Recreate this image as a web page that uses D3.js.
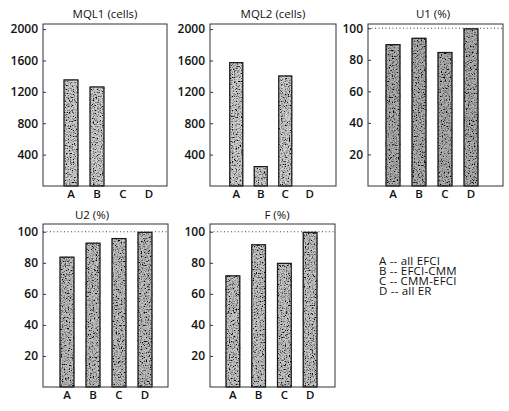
<!DOCTYPE html>
<html>
<head>
<meta charset="utf-8">
<script src="https://cdn.jsdelivr.net/npm/d3@7"></script>
<style>
  body { margin: 0; background: #fff; }
  text { font-family: "Open Sans", sans-serif; fill: #111; }
</style>
</head>
<body>
<script>
// data
const categories = ["A", "B", "C", "D"];
const titles = ["MQL1 (cells)", "MQL2 (cells)", "U1 (%)", "U2 (%)", "F (%)"];
const mql1 = [1360, 1270, null, null];
const mql2 = [1580, 255, 1410, null];
const u1 = [90, 94, 85, 100];
const u2 = [84, 93, 96, 100];
const f = [72, 92, 80, 100];
const cellTicks = [400, 800, 1200, 1600, 2000];
const pctTicks = [20, 40, 60, 80, 100];
const legendLines = ["A -- all EFCI", "B -- EFCI-CMM", "C -- CMM-EFCI", "D -- all ER"];

let width = 509,
  height = 411;

// panel boxes and look
const panels = [
  { values: mql1, ticks: cellTicks, top: 2065, x0: 43, x1: 167, y0: 24, y1: 186, b0: 58, b1: 162, tx: 105, ty: 18, tone: "#cfcfcf" },
  { values: mql2, ticks: cellTicks, top: 2065, x0: 210, x1: 336, y0: 24, y1: 186, b0: 224, b1: 322, tx: 273, ty: 18, tone: "#cfcfcf" },
  { values: u1, ticks: pctTicks, top: 102.7, x0: 368, x1: 503, y0: 24, y1: 186, b0: 380, b1: 484, tx: 433, ty: 18, tone: "#b0b0b0", dotted: true },
  { values: u2, ticks: pctTicks, top: 105, x0: 43, x1: 168, y0: 224, y1: 387, b0: 54, b1: 158, tx: 92, ty: 219, tone: "#c0c0c0", dotted: true },
  { values: f, ticks: pctTicks, top: 105, x0: 210, x1: 335, y0: 224, y1: 387, b0: 220, b1: 323, tx: 277, ty: 219, tone: "#c6c6c6", dotted: true }
];

let svg = d3.select('body')
  .append('svg')
  .attr('width', width)
  .attr('height', height);

// speckled print texture for the bars
let filter = svg.append('defs')
  .append('filter')
  .attr('id', 'speckle')
  .attr('x', 0).attr('y', 0).attr('width', 1).attr('height', 1);
filter.append('feTurbulence')
  .attr('type', 'fractalNoise')
  .attr('baseFrequency', 0.75)
  .attr('numOctaves', 3)
  .attr('seed', 11)
  .attr('result', 'noise');
filter.append('feColorMatrix')
  .attr('in', 'noise')
  .attr('type', 'matrix')
  .attr('values', '0 0 0 0 0  0 0 0 0 0  0 0 0 0 0  -3.5 0 0 0 1.95')
  .attr('result', 'dots');
filter.append('feComposite')
  .attr('in', 'dots')
  .attr('in2', 'SourceGraphic')
  .attr('operator', 'in')
  .attr('result', 'clip');
let merge = filter.append('feMerge');
merge.append('feMergeNode').attr('in', 'SourceGraphic');
merge.append('feMergeNode').attr('in', 'clip');

panels.forEach(function(p, i) {
  let g = svg.append('g');

  let yScale = d3.scaleLinear()
    .domain([0, p.top])
    .range([p.y1, p.y0]);

  let xScale = d3.scaleBand()
    .domain(categories)
    .range([p.b0, p.b1])
    .paddingInner(0.42)
    .paddingOuter(0.21);

  // title
  g.append('text')
    .attr('x', p.tx)
    .attr('y', p.ty)
    .attr('text-anchor', 'middle')
    .style('font-size', '11.5px')
    .text(titles[i]);

  // dotted 100% line
  if (p.dotted) {
    g.append('line')
      .attr('x1', p.x0).attr('x2', p.x1)
      .attr('y1', yScale(100)).attr('y2', yScale(100))
      .attr('stroke', '#444')
      .attr('stroke-width', 1)
      .attr('stroke-dasharray', '1,2.5');
  }

  // bars
  let data = categories.map((c, k) => ({ cat: c, v: p.values[k] })).filter(d => d.v != null);
  g.selectAll('rect.bar')
    .data(data)
    .enter()
    .append('rect')
      .attr('class', 'bar')
      .attr('x', d => xScale(d.cat))
      .attr('y', d => yScale(d.v))
      .attr('width', xScale.bandwidth())
      .attr('height', d => yScale(0) - yScale(d.v))
      .attr('fill', p.tone)
      .attr('filter', 'url(#speckle)');
  g.selectAll('rect.edge')
    .data(data)
    .enter()
    .append('rect')
      .attr('class', 'edge')
      .attr('x', d => xScale(d.cat) + 0.6)
      .attr('y', d => yScale(d.v) + 0.6)
      .attr('width', xScale.bandwidth() - 1.2)
      .attr('height', d => yScale(0) - yScale(d.v) - 0.6)
      .attr('fill', 'none')
      .attr('stroke', '#1a1a1a')
      .attr('stroke-width', 1.2);

  // frame
  g.append('rect')
    .attr('x', p.x0).attr('y', p.y0)
    .attr('width', p.x1 - p.x0)
    .attr('height', p.y1 - p.y0)
    .attr('fill', 'none')
    .attr('stroke', '#333')
    .attr('stroke-width', 1);

  // y axis
  let yAxis = g.append('g')
    .attr('transform', `translate(${p.x0},0)`)
    .call(d3.axisLeft(yScale).tickValues(p.ticks).tickFormat(d3.format('d')).tickSize(-3).tickPadding(5));
  yAxis.select('.domain').remove();
  yAxis.selectAll('line').attr('stroke', '#333');
  yAxis.selectAll('text')
    .style('font-size', '12px')
    .style('font-weight', '600')
    .style('font-family', '"Open Sans", sans-serif')
    .attr('fill', '#111');

  // x axis labels
  let xAxis = g.append('g')
    .attr('transform', `translate(0,${p.y1})`)
    .call(d3.axisBottom(xScale).tickSize(0).tickPadding(4));
  xAxis.select('.domain').remove();
  xAxis.selectAll('text')
    .style('font-size', '11.5px')
    .style('font-weight', '600')
    .style('font-family', '"Open Sans", sans-serif')
    .attr('fill', '#111');
});

// legend
svg.append('g')
  .selectAll('text')
  .data(legendLines)
  .enter()
  .append('text')
    .attr('x', 379)
    .attr('y', (d, k) => 265 + k * 10)
    .style('font-size', '11.5px')
    .style('letter-spacing', '0.2px')
    .text(d => d);
</script>
</body>
</html>
